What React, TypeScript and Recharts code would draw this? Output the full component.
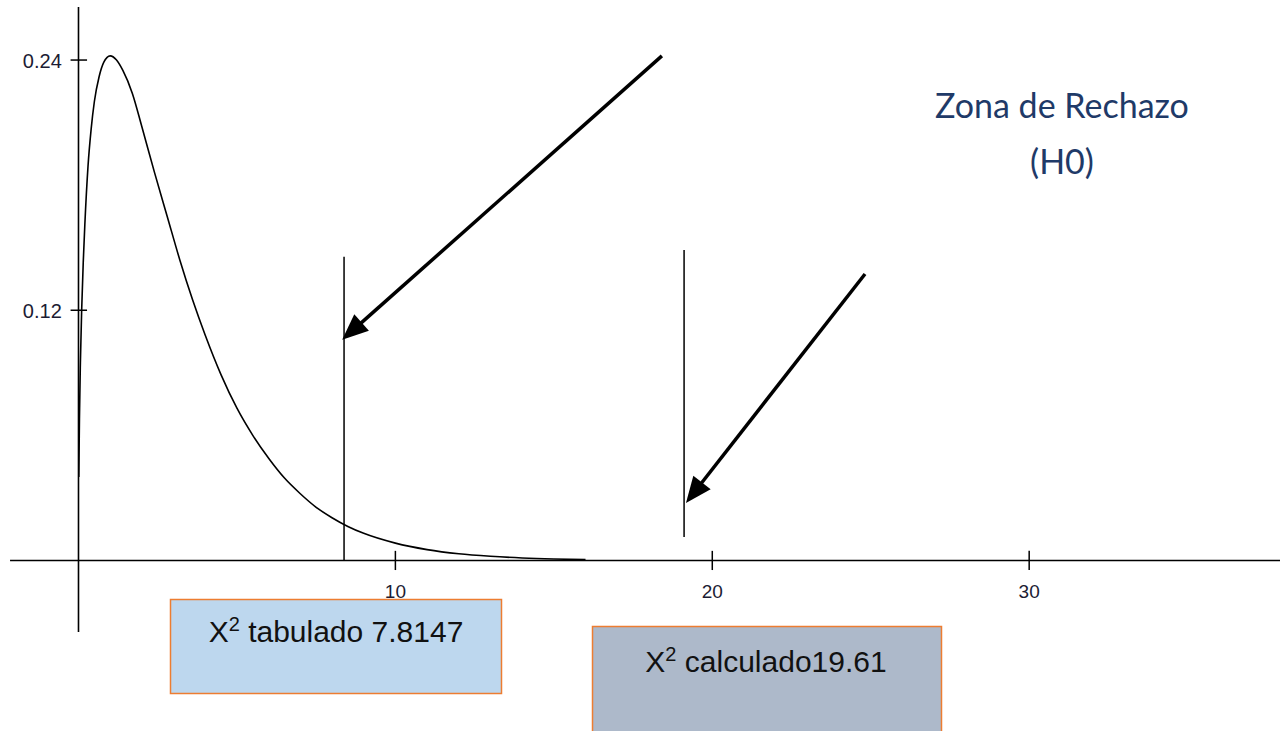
import React from 'react';
import { ComposedChart, Line, XAxis, YAxis, ReferenceLine } from 'recharts';

// chi-square density
const curveX = [0.01, 0.03, 0.06, 0.1, 0.15, 0.2, 0.3, 0.4, 0.5, 0.65, 0.8, 1, 1.2, 1.4, 1.7, 2, 2.4, 2.8, 3.2, 3.6, 4, 4.5, 5, 5.5, 6, 6.5, 7, 7.5, 8, 8.5, 9, 10, 11, 12, 13, 14, 15, 16];
const curveY = [0.04, 0.068, 0.095, 0.12, 0.143, 0.161, 0.189, 0.207, 0.22, 0.232, 0.239, 0.242, 0.24, 0.235, 0.224, 0.208, 0.186, 0.165, 0.144, 0.125, 0.108, 0.089, 0.073, 0.06, 0.049, 0.0395, 0.032, 0.0255, 0.0205, 0.0163, 0.013, 0.0083, 0.0052, 0.0032, 0.002, 0.0012, 0.0007, 0.0004];

const yTickValues = [0.12, 0.24];
const yTickLabels = ['0.12', '0.24'];
const xTickValues = [10, 20, 30];
const xTickLabels = ['10', '20', '30'];

// the two vertical marks (tabulated / calculated)
const markerX = [8.38, 19.11];
const markerTop = [0.1456, 0.1489];
const markerBottom = [0, 0.0113];

const arrowFromX = [18.41, 24.82];
const arrowFromY = [0.242, 0.1374];
const arrowToX = [8.32, 19.17];
const arrowToY = [0.1058, 0.0276];

const xDomain = [-2.477, 37.915];
const yDomain = [-0.0818, 0.2688];
const xAxisSpan = [-2.16, 37.915];
const yAxisSpan = [-0.0343, 0.2654];

const curve = curveX.map((x, i) => ({ x, y: curveY[i] }));

const ArrowShape = (props: any) => {
  const { x1, y1, x2, y2 } = props;
  const dx = x2 - x1;
  const dy = y2 - y1;
  const len = Math.hypot(dx, dy) || 1;
  const ux = dx / len;
  const uy = dy / len;
  const headLen = 26;
  const headW = 11;
  const bx = x2 - ux * headLen;
  const by = y2 - uy * headLen;
  const px = -uy;
  const py = ux;
  return (
    <g>
      <line x1={x1} y1={y1} x2={bx + ux * 2} y2={by + uy * 2} stroke="#000" strokeWidth={3.5} />
      <polygon
        points={`${x2},${y2} ${bx + px * headW},${by + py * headW} ${bx - px * headW},${by - py * headW}`}
        fill="#000"
      />
    </g>
  );
};

const yTickShape = (label: string) => (props: any) => {
  const { x1, y1, x2, y2 } = props;
  const cx = (x1 + x2) / 2;
  return (
    <g>
      <line x1={x1} y1={y1} x2={x2} y2={y2} stroke="#000" strokeWidth={1.5} />
      <text x={cx - 17} y={y1 + 8} textAnchor="end" fontFamily="Liberation Sans" fontSize={20} fill="#1c1c33">
        {label}
      </text>
    </g>
  );
};

const xTickShape = (label: string) => (props: any) => {
  const { x1, y1, x2, y2 } = props;
  const cy = (y1 + y2) / 2;
  return (
    <g>
      <line x1={x1} y1={y1} x2={x2} y2={y2} stroke="#000" strokeWidth={1.5} />
      <text x={x1} y={cy + 38} textAnchor="middle" fontFamily="Liberation Sans" fontSize={19} fill="#1c1c33">
        {label}
      </text>
    </g>
  );
};

export default function App() {
  return (
    <div style={{ position: 'absolute', left: 0, top: 0, width: 1280, height: 731, overflow: 'hidden', background: '#fff' }}>
      <ComposedChart width={1280} height={731} data={curve} margin={{ top: 0, right: 0, bottom: 0, left: 0 }}>
        <XAxis dataKey="x" type="number" domain={xDomain} allowDataOverflow hide />
        <YAxis type="number" domain={yDomain} allowDataOverflow hide />
        <ReferenceLine
          segment={[{ x: xAxisSpan[0], y: 0 }, { x: xAxisSpan[1], y: 0 }]}
          stroke="#000"
          strokeWidth={1.6}
          ifOverflow="visible"
        />
        <ReferenceLine
          segment={[{ x: 0, y: yAxisSpan[0] }, { x: 0, y: yAxisSpan[1] }]}
          stroke="#000"
          strokeWidth={1.6}
          ifOverflow="visible"
        />
        {yTickValues.map((v, i) => (
          <ReferenceLine
            key={'yt' + i}
            segment={[{ x: -0.25, y: v }, { x: 0.27, y: v }]}
            shape={yTickShape(yTickLabels[i])}
            ifOverflow="visible"
          />
        ))}
        {xTickValues.map((v, i) => (
          <ReferenceLine
            key={'xt' + i}
            segment={[{ x: v, y: 0.0046 }, { x: v, y: -0.0046 }]}
            shape={xTickShape(xTickLabels[i])}
            ifOverflow="visible"
          />
        ))}
        {markerX.map((v, i) => (
          <ReferenceLine
            key={'mk' + i}
            segment={[{ x: v, y: markerBottom[i] }, { x: v, y: markerTop[i] }]}
            stroke="#000"
            strokeWidth={1.5}
            ifOverflow="visible"
          />
        ))}
        {arrowFromX.map((v, i) => (
          <ReferenceLine
            key={'ar' + i}
            segment={[{ x: v, y: arrowFromY[i] }, { x: arrowToX[i], y: arrowToY[i] }]}
            shape={ArrowShape}
            ifOverflow="visible"
          />
        ))}
        <Line
          dataKey="y"
          type="monotone"
          stroke="#000"
          strokeWidth={1.6}
          dot={false}
          activeDot={false}
          isAnimationActive={false}
        />
      </ComposedChart>
      <svg width={1280} height={731} style={{ position: 'absolute', left: 0, top: 0, pointerEvents: 'none' }}>
        <text x={1062} y={118} textAnchor="middle" fontFamily="Lato" fontSize={34} fill="#1f3a68">
          Zona de Rechazo
        </text>
        <text x={1062} y={174} textAnchor="middle" fontFamily="Lato" fontSize={34} fill="#1f3a68">
          (H0)
        </text>
        <rect x={170.5} y={599.5} width={331} height={94} fill="#bdd7ee" stroke="#ed7d31" strokeWidth={1.5} />
        <text x={336} y={642} textAnchor="middle" fontFamily="Liberation Sans" fontSize={30} fill="#111">
          X<tspan fontSize={20} dy={-11}>2</tspan>
          <tspan dy={11}> tabulado 7.8147</tspan>
        </text>
        <rect x={592.5} y={626.5} width={349} height={120} fill="#adb9ca" stroke="#ed7d31" strokeWidth={1.5} />
        <text x={766} y={672} textAnchor="middle" fontFamily="Liberation Sans" fontSize={30} fill="#111">
          X<tspan fontSize={20} dy={-11}>2</tspan>
          <tspan dy={11}> calculado19.61</tspan>
        </text>
      </svg>
    </div>
  );
}
